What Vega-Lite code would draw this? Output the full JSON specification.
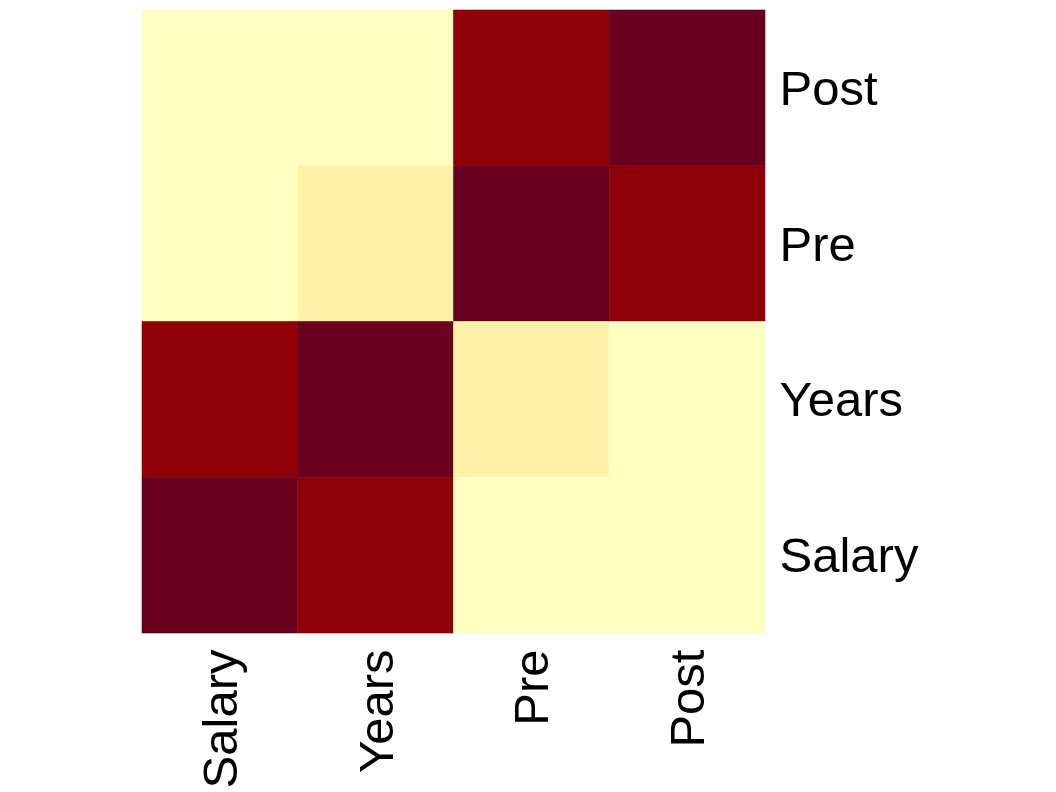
{
  "$schema": "https://vega.github.io/schema/vega-lite/v6.json",
  "width": 623,
  "height": 623,
  "autosize": "none",
  "padding": {"left": 142, "top": 10, "right": 291, "bottom": 159},
  "background": "white",
  "config": {"view": {"stroke": null}, "font": "Liberation Sans"},
  "data": {
    "values": [
      {"row": "Post", "col": "Salary", "r": 0.0},
      {"row": "Post", "col": "Years", "r": 0.0},
      {"row": "Post", "col": "Pre", "r": 0.9},
      {"row": "Post", "col": "Post", "r": 1.0},
      {"row": "Pre", "col": "Salary", "r": 0.0},
      {"row": "Pre", "col": "Years", "r": 0.1},
      {"row": "Pre", "col": "Pre", "r": 1.0},
      {"row": "Pre", "col": "Post", "r": 0.9},
      {"row": "Years", "col": "Salary", "r": 0.9},
      {"row": "Years", "col": "Years", "r": 1.0},
      {"row": "Years", "col": "Pre", "r": 0.1},
      {"row": "Years", "col": "Post", "r": 0.0},
      {"row": "Salary", "col": "Salary", "r": 1.0},
      {"row": "Salary", "col": "Years", "r": 0.9},
      {"row": "Salary", "col": "Pre", "r": 0.0},
      {"row": "Salary", "col": "Post", "r": 0.0}
    ]
  },
  "mark": {"type": "rect", "strokeWidth": 0.6},
  "encoding": {
    "x": {
      "field": "col", "type": "nominal",
      "sort": ["Salary", "Years", "Pre", "Post"],
      "scale": {"paddingInner": 0, "paddingOuter": 0},
      "axis": {"orient": "bottom", "title": null, "ticks": false, "domain": false,
               "labelAngle": 270, "labelAlign": "right", "labelBaseline": "middle",
               "labelFontSize": 49, "labelColor": "black", "labelPadding": 16, "labelOffset": 2}
    },
    "y": {
      "field": "row", "type": "nominal",
      "sort": ["Post", "Pre", "Years", "Salary"],
      "scale": {"paddingInner": 0, "paddingOuter": 0},
      "axis": {"orient": "right", "title": null, "ticks": false, "domain": false,
               "labelAlign": "left", "labelFontSize": 49, "labelColor": "black", "labelPadding": 14, "labelOffset": 2}
    },
    "fill": {
      "field": "r", "type": "quantitative",
      "scale": {"domain": [0, 0.1, 0.9, 1], "range": ["#FFFFBF", "#FFF2A8", "#900008", "#6A0020"]},
      "legend": null
    },
    "stroke": {
      "field": "r", "type": "quantitative",
      "scale": {"domain": [0, 0.1, 0.9, 1], "range": ["#FFFFBF", "#FFF2A8", "#900008", "#6A0020"]},
      "legend": null
    }
  }
}
